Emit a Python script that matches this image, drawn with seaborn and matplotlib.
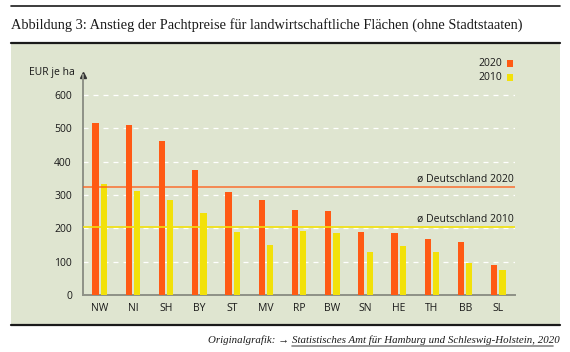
import pandas as pd
import matplotlib
import matplotlib.pyplot as plt
import seaborn as sns
from matplotlib.patches import Rectangle
from matplotlib.lines import Line2D

matplotlib.use('Agg')

# Pachtpreise in EUR je ha
laender = ['NW', 'NI', 'SH', 'BY', 'ST', 'MV', 'RP', 'BW', 'SN', 'HE', 'TH', 'BB', 'SL']
preis_2020 = [517, 509, 462, 375, 308, 286, 255, 252, 190, 185, 169, 160, 89]
preis_2010 = [333, 313, 285, 246, 188, 150, 193, 187, 128, 147, 130, 96, 76]
schnitt_2020 = 323
schnitt_2010 = 204
yticks = [0, 100, 200, 300, 400, 500, 600]

df = pd.DataFrame({
    'Land': laender * 2,
    'Jahr': ['2020'] * len(laender) + ['2010'] * len(laender),
    'Preis': preis_2020 + preis_2010,
})

orange = '#FF5A14'
gelb = '#F2E10A'
panel_bg = '#DFE5D0'
achse = '#8E9186'
serif = ['Liberation Serif', 'DejaVu Serif']

sns.set_style('white')
plt.rcParams['font.family'] = ['Open Sans', 'DejaVu Sans']

fig = plt.figure(figsize=(5.7, 3.52), dpi=100)

# green panel as a background axes
bg = fig.add_axes([11 / 570, 0.0767, 549 / 570, 0.80])
bg.set_facecolor(panel_bg)
bg.set_xticks([])
bg.set_yticks([])
for s in bg.spines.values():
    s.set_visible(False)
bg.set_zorder(0)

for yy, lw in [(0.983, 1.2), (0.877, 1.6), (0.0767, 1.6)]:
    fig.add_artist(Line2D([11 / 570, 560 / 570], [yy, yy], color='#1a1a1a',
                          lw=lw, transform=fig.transFigure))

fig.text(11 / 570, 0.93, 'Abbildung 3: Anstieg der Pachtpreise für landwirtschaftliche Flächen (ohne Stadtstaaten)',
         family=serif, fontsize=10.4, va='center', ha='left', color='#1a1a1a')

ax = fig.add_axes([83 / 570, 57 / 352, 432 / 570, 220 / 352])
ax.set_zorder(2)
ax.set_facecolor('none')

sns.barplot(data=df, x='Land', y='Preis', hue='Jahr', hue_order=['2020', '2010'],
            palette=[orange, gelb], width=0.5, gap=0.25, ax=ax, legend=False,
            saturation=1, linewidth=0, zorder=3)

ax.set_xlim(-0.5, len(laender) - 0.5)
ax.set_ylim(0, 660)
ax.set_yticks(yticks)
ax.yaxis.grid(True, color='white', linestyle=(0, (4, 4)), linewidth=0.9)
ax.set_axisbelow(True)
ax.set_xlabel('')
ax.set_ylabel('')
for s in ['top', 'right']:
    ax.spines[s].set_visible(False)
for s in ['left', 'bottom']:
    ax.spines[s].set_color(achse)
    ax.spines[s].set_linewidth(1.4)
ax.tick_params(axis='both', length=0, labelsize=7.5, colors='#1a1a1a')
ax.tick_params(axis='y', pad=8)
ax.tick_params(axis='x', pad=6)
ax.plot(0, 1, marker='^', color='#333333', markersize=4, transform=ax.transAxes, clip_on=False)

# averages (drawn over the bars)
ax.axhline(schnitt_2020, color=orange, lw=1.1, alpha=0.85, zorder=4)
ax.axhline(schnitt_2010, color=gelb, lw=1.4, alpha=0.85, zorder=4)
ax.text(12.45, schnitt_2020 + 8, 'ø Deutschland 2020', ha='right', va='bottom', fontsize=7.5, color='#1a1a1a')
ax.text(12.45, schnitt_2010 + 8, 'ø Deutschland 2010', ha='right', va='bottom', fontsize=7.5, color='#1a1a1a')

fig.text(75 / 570, 1 - 72 / 352, 'EUR je ha', ha='right', va='center', fontsize=7.5, color='#1a1a1a')

# legend
for yy, lab, col in [(63, '2020', orange), (77, '2010', gelb)]:
    fig.text(502 / 570, 1 - yy / 352, lab, ha='right', va='center', fontsize=7.5, color='#1a1a1a')
    fig.add_artist(Rectangle((507 / 570, 1 - (yy + 3.5) / 352), 6 / 570, 6 / 352,
                             transform=fig.transFigure, facecolor=col, edgecolor='none'))

# source line
src = fig.text(560 / 570, 0.034, 'Statistisches Amt für Hamburg und Schleswig-Holstein, 2020',
               ha='right', va='center', fontsize=7.8, style='italic', family=serif, color='#1a1a1a')
fig.canvas.draw()
bb = src.get_window_extent().transformed(fig.transFigure.inverted())
fig.text(bb.x0 - 3 / 570, 0.034, 'Originalgrafik: →', ha='right', va='center', fontsize=7.8,
         style='italic', family=serif, color='#1a1a1a')
fig.add_artist(Line2D([bb.x0, bb.x1 - 7 / 570], [0.017, 0.017], color='#888888', lw=1.2,
                      transform=fig.transFigure))

fig.savefig('out.png', dpi=100, facecolor='white')
